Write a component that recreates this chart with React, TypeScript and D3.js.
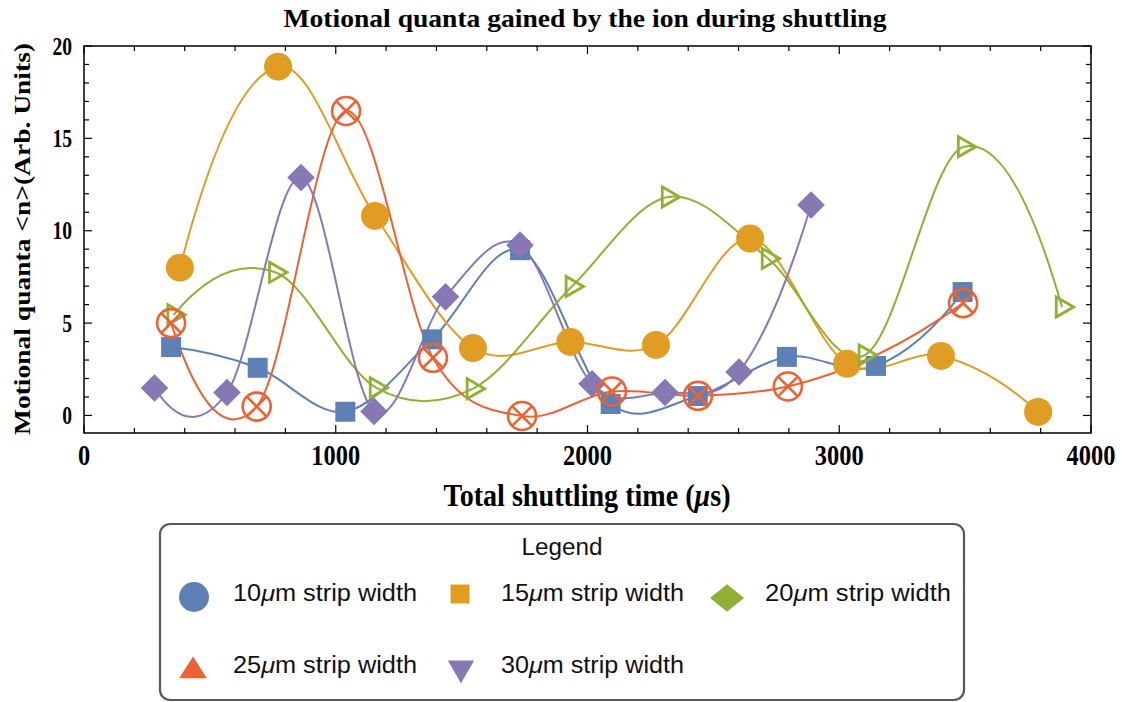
import React from 'react';
import * as d3 from 'd3';

const W = 1122;
const H = 702;

// ---- data ----
const blueX = [346, 690, 1038, 1383, 1732, 2092, 2438, 2792, 3146, 3490];
const blueY = [3.7, 2.58, 0.2, 4.12, 8.95, 0.62, 1.05, 3.17, 2.68, 6.68];

const orangeX = [381, 771, 1156, 1545, 1932, 2272, 2646, 3031, 3404, 3790];
const orangeY = [8.0, 18.88, 10.8, 3.65, 3.98, 3.82, 9.58, 2.8, 3.22, 0.19];

const greenX = [356, 760, 1160, 1545, 1938, 2320, 2717, 3102, 3496, 3885];
const greenY = [5.45, 7.75, 1.5, 1.45, 6.98, 11.83, 8.5, 3.27, 14.55, 5.87];

const redX = [346, 686, 1041, 1386, 1740, 2097, 2439, 2796, 3492];
const redY = [5.0, 0.48, 16.48, 3.12, -0.03, 1.3, 1.06, 1.57, 6.08];

const purpleX = [280, 568, 862, 1152, 1436, 1732, 2018, 2308, 2602, 2888];
const purpleY = [1.49, 1.24, 12.88, 0.22, 6.42, 9.22, 1.72, 1.24, 2.35, 11.39];

const xMajor = [0, 1000, 2000, 3000, 4000];
const yMajor = [0, 5, 10, 15, 20];

const legendLabels = ['10', '15', '20', '25', '30'];

const COLORS = {
  blue: '#5E81B5',
  orange: '#E19C24',
  green: '#8FB032',
  red: '#EB6235',
  purple: '#8778B3',
};

const SERIF = '"Liberation Serif", "Times New Roman", Times, serif';
const SANS = '"Liberation Sans", Arial, Helvetica, sans-serif';

const PL = 84;
const PR = 1091;
const PT = 46;
const PB = 433;

const x = d3.scaleLinear().domain([0, 4000]).range([PL, PR]);
const y = d3.scaleLinear().domain([-0.95, 20]).range([PB, PT]);

// Piecewise cubic Hermite curve: slopes from a parabola through each point and
// its neighbours (one-sided parabola at the ends). Used as a d3 curve factory.
function curveHermite(context: any) {
  let xs: number[] = [];
  let ys: number[] = [];
  return {
    areaStart() {},
    areaEnd() {},
    lineStart() {
      xs = [];
      ys = [];
    },
    point(px: number, py: number) {
      xs.push(+px);
      ys.push(+py);
    },
    lineEnd() {
      const n = xs.length - 1;
      if (n < 0) return;
      context.moveTo(xs[0], ys[0]);
      if (n === 0) return;
      if (n === 1) {
        context.lineTo(xs[1], ys[1]);
        return;
      }
      const h: number[] = [];
      const dl: number[] = [];
      for (let i = 0; i < n; i++) {
        h[i] = xs[i + 1] - xs[i];
        dl[i] = (ys[i + 1] - ys[i]) / h[i];
      }
      const m: number[] = new Array(n + 1).fill(0);
      m[0] = dl[0] - (h[0] * (dl[1] - dl[0])) / (h[0] + h[1]);
      m[n] = dl[n - 1] + (h[n - 1] * (dl[n - 1] - dl[n - 2])) / (h[n - 2] + h[n - 1]);
      for (let i = 1; i < n; i++) {
        m[i] = (h[i] * dl[i - 1] + h[i - 1] * dl[i]) / (h[i - 1] + h[i]);
      }
      for (let i = 0; i < n; i++) {
        const t = h[i] / 3;
        context.bezierCurveTo(xs[i] + t, ys[i] + m[i] * t, xs[i + 1] - t, ys[i + 1] - m[i + 1] * t, xs[i + 1], ys[i + 1]);
      }
    },
  };
}

const line = d3
  .line<[number, number]>()
  .x((d) => x(d[0]))
  .y((d) => y(d[1]))
  .curve(curveHermite as any);

const zip = (a: number[], b: number[]): [number, number][] => a.map((v, i) => [v, b[i]]);

const blue = zip(blueX, blueY);
const orange = zip(orangeX, orangeY);
const green = zip(greenX, greenY);
const red = zip(redX, redY);
const purple = zip(purpleX, purpleY);

const squareSym = d3.symbol().type(d3.symbolSquare);
const circleSym = d3.symbol().type(d3.symbolCircle);
const triSym = d3.symbol().type(d3.symbolTriangle);

function Mu() {
  return <tspan fontStyle="italic">μ</tspan>;
}

export default function App() {
  const xMinor = d3.range(0, 4001, 200).filter((v) => v % 1000 !== 0);
  const yMinor = d3.range(0, 21, 1).filter((v) => v % 5 !== 0);

  const legendItems = [
    { label: legendLabels[0], color: COLORS.blue, shape: 'circle', mx: 194, tx: 233, ty: 601, my: 597, tl: 184 },
    { label: legendLabels[1], color: COLORS.orange, shape: 'square', mx: 460, tx: 501, ty: 601, my: 594, tl: 183 },
    { label: legendLabels[2], color: COLORS.green, shape: 'diamond', mx: 727, tx: 765, ty: 601, my: 598, tl: 186 },
    { label: legendLabels[3], color: COLORS.red, shape: 'up', mx: 193, tx: 233, ty: 673, my: 671, tl: 184 },
    { label: legendLabels[4], color: COLORS.purple, shape: 'down', mx: 461, tx: 501, ty: 673, my: 668, tl: 183 },
  ];

  return (
    <svg width={W} height={H} style={{ position: 'absolute', left: 0, top: 0, background: '#fff' }}>
      <defs>
        <clipPath id="plotclip">
          <rect x={PL} y={PT} width={PR - PL} height={PB - PT} />
        </clipPath>
      </defs>

      {/* title */}
      <text
        x={585}
        y={27}
        textAnchor="middle"
        fontFamily={SERIF}
        fontWeight="bold"
        fontSize={25}
        textLength={603}
        lengthAdjust="spacingAndGlyphs"
        fill="#000"
      >
        Motional quanta gained by the ion during shuttling
      </text>

      {/* curves */}
      <g clipPath="url(#plotclip)" fill="none" strokeWidth={2}>
        <path d={line(blue) || ''} stroke={COLORS.blue} />
        <path d={line(orange) || ''} stroke={COLORS.orange} />
        <path d={line(green) || ''} stroke={COLORS.green} />
        <path d={line(red) || ''} stroke={COLORS.red} />
        <path d={line(purple) || ''} stroke={COLORS.purple} />
      </g>

      {/* markers */}
      <g>
        {orange.map((d, i) => (
          <path key={'o' + i} d={circleSym.size(Math.PI * 14 * 14)() || ''} transform={`translate(${x(d[0])},${y(d[1])})`} fill={COLORS.orange} />
        ))}
        {blue.map((d, i) => (
          <path key={'b' + i} d={squareSym.size(20 * 20)() || ''} transform={`translate(${x(d[0])},${y(d[1])})`} fill={COLORS.blue} />
        ))}
        {green.map((d, i) => (
          <path
            key={'g' + i}
            d={triSym.size(175)() || ''}
            transform={`translate(${x(d[0])},${y(d[1])}) rotate(90)`}
            fill="none"
            stroke={COLORS.green}
            strokeWidth={2.8}
          />
        ))}
        {purple.map((d, i) => (
          <path
            key={'p' + i}
            d={squareSym.size(19.5 * 19.5)() || ''}
            transform={`translate(${x(d[0])},${y(d[1])}) rotate(45)`}
            fill={COLORS.purple}
          />
        ))}
        {red.map((d, i) => {
          const r = 14;
          const k = r * Math.SQRT1_2;
          return (
            <g key={'r' + i} transform={`translate(${x(d[0])},${y(d[1])})`} stroke={COLORS.red} strokeWidth={2.6} fill="none">
              <circle r={r} />
              <line x1={-k} y1={-k} x2={k} y2={k} />
              <line x1={-k} y1={k} x2={k} y2={-k} />
            </g>
          );
        })}
      </g>

      {/* frame */}
      <rect x={PL} y={PT} width={PR - PL} height={PB - PT} fill="none" stroke="#000" strokeWidth={1.5} />

      {/* ticks */}
      <g stroke="#000" strokeWidth={1.2}>
        {xMajor.map((v) => (
          <g key={'xM' + v}>
            <line x1={x(v)} x2={x(v)} y1={PB} y2={PB - 8} />
            <line x1={x(v)} x2={x(v)} y1={PT} y2={PT + 8} />
          </g>
        ))}
        {xMinor.map((v) => (
          <g key={'xm' + v}>
            <line x1={x(v)} x2={x(v)} y1={PB} y2={PB - 5} />
            <line x1={x(v)} x2={x(v)} y1={PT} y2={PT + 5} />
          </g>
        ))}
        {yMajor.map((v) => (
          <g key={'yM' + v}>
            <line x1={PL} x2={PL + 8} y1={y(v)} y2={y(v)} />
            <line x1={PR} x2={PR - 8} y1={y(v)} y2={y(v)} />
          </g>
        ))}
        {yMinor.map((v) => (
          <g key={'ym' + v}>
            <line x1={PL} x2={PL + 5} y1={y(v)} y2={y(v)} />
            <line x1={PR} x2={PR - 5} y1={y(v)} y2={y(v)} />
          </g>
        ))}
      </g>

      {/* tick labels */}
      <g fontFamily={SERIF} fontWeight="bold" fill="#000">
        {xMajor.map((v) => {
          const s = String(v);
          return (
            <text key={'xl' + v} x={x(v)} y={465} textAnchor="middle" fontSize={30} textLength={12.2 * s.length} lengthAdjust="spacingAndGlyphs">
              {s}
            </text>
          );
        })}
        {yMajor.map((v) => {
          const s = String(v);
          return (
            <text key={'yl' + v} x={72} y={y(v) + 8.5} textAnchor="end" fontSize={26} textLength={9.8 * s.length} lengthAdjust="spacingAndGlyphs">
              {s}
            </text>
          );
        })}
      </g>

      {/* axis labels */}
      <text
        x={587}
        y={506}
        textAnchor="middle"
        fontFamily={SERIF}
        fontWeight="bold"
        fontSize={31}
        textLength={287}
        lengthAdjust="spacingAndGlyphs"
        fill="#000"
      >
        Total shuttling time (<Mu />s)
      </text>
      <text
        transform="translate(30,239) rotate(-90)"
        textAnchor="middle"
        fontFamily={SERIF}
        fontWeight="bold"
        fontSize={24}
        textLength={392}
        lengthAdjust="spacingAndGlyphs"
        fill="#000"
      >
        {'Motional quanta <n>(Arb. Units)'}
      </text>

      {/* legend */}
      <rect x={160} y={524} width={804} height={176} rx={10} ry={10} fill="#fff" stroke="#5a5a5a" strokeWidth={2.2} />
      <text x={562} y={555} textAnchor="middle" fontFamily={SANS} fontSize={23} textLength={81} lengthAdjust="spacingAndGlyphs" fill="#111">
        Legend
      </text>
      {legendItems.map((it, i) => {
        let mark: React.ReactNode = null;
        if (it.shape === 'circle') {
          mark = <path d={circleSym.size(Math.PI * 15 * 15)() || ''} transform={`translate(${it.mx},${it.my})`} fill={it.color} />;
        } else if (it.shape === 'square') {
          mark = <path d={squareSym.size(19 * 19)() || ''} transform={`translate(${it.mx},${it.my})`} fill={it.color} />;
        } else if (it.shape === 'diamond') {
          mark = <path d={squareSym.size(20 * 20)() || ''} transform={`translate(${it.mx},${it.my}) scale(1.2,0.97) rotate(45)`} fill={it.color} />;
        } else if (it.shape === 'up') {
          mark = <path d={triSym.size(300)() || ''} transform={`translate(${it.mx},${it.my}) scale(1.05,0.95)`} fill={it.color} />;
        } else {
          mark = <path d={triSym.size(300)() || ''} transform={`translate(${it.mx},${it.my}) rotate(180)`} fill={it.color} />;
        }
        return (
          <g key={'lg' + i}>
            {mark}
            <text x={it.tx} y={it.ty} fontFamily={SANS} fontSize={23} textLength={it.tl} lengthAdjust="spacingAndGlyphs" fill="#111">
              {it.label}
              <Mu />
              m strip width
            </text>
          </g>
        );
      })}
    </svg>
  );
}
